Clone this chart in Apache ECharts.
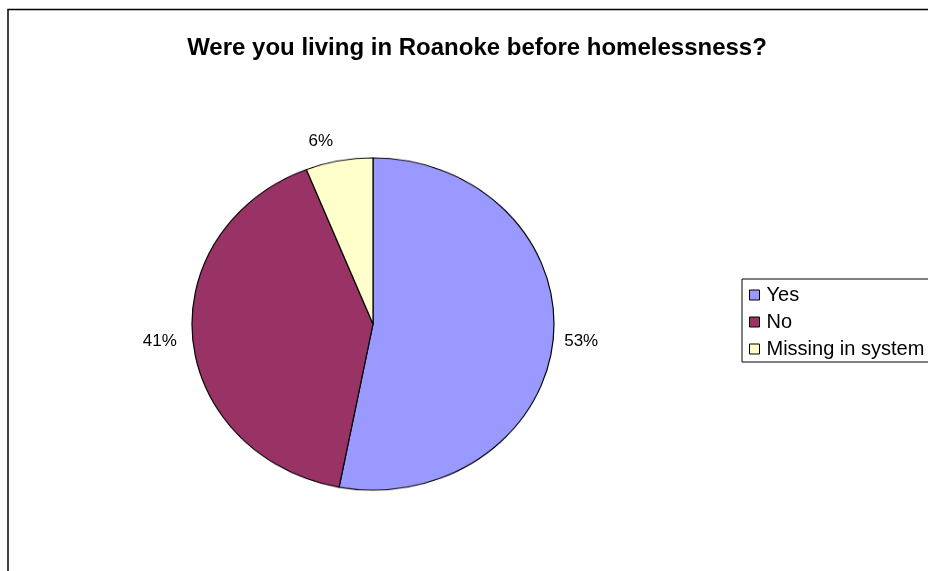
<!DOCTYPE html>
<html>
<head>
<meta charset="utf-8">
<script src="https://cdn.jsdelivr.net/npm/echarts@6/dist/echarts.min.js"></script>
<style>
  html, body { margin: 0; padding: 0; background: #fff; }
  #wrap { position: relative; width: 928px; height: 571px; overflow: hidden; }
  #base, #pie { position: absolute; left: 0; top: 0; width: 928px; height: 571px; }
  #pie { transform-origin: 0 324px; transform: scaleY(0.918); pointer-events: none; }
</style>
</head>
<body>
<div id="wrap">
  <div id="base"></div>
  <div id="pie"></div>
</div>
<script>
const titleText = 'Were you living in Roanoke before homelessness?';
const categories = ['Yes', 'No', 'Missing in system'];
const values = [53, 41, 6];
const colors = ['#9999FF', '#993366', '#FFFFCC'];
// per-slice label line offsets (layout only)
const labelLen = [0, 0, 5];
const labelLen2 = [6, 11, 0];

const center = [373, 324];
const radius = 181;
const font = 'Liberation Sans, Arial, sans-serif';

const base = echarts.init(document.getElementById('base'), null, { renderer: 'canvas' });
base.setOption({
  animation: false,
  backgroundColor: '#fff',
  title: {
    text: titleText,
    left: 472,
    textAlign: 'center',
    top: 31,
    textStyle: { fontFamily: font, fontWeight: 'bold', fontSize: 24, color: '#000' }
  },
  graphic: [{
    type: 'rect',
    shape: { x: 8, y: 9.5, width: 1000, height: 1000 },
    style: { fill: 'none', stroke: '#000', lineWidth: 1.5 },
    silent: true
  }],
  legend: {
    orient: 'vertical',
    left: 742,
    top: 279,
    padding: [6, 40, 3, 7],
    itemGap: 7,
    itemWidth: 10,
    itemHeight: 10,
    icon: 'rect',
    borderColor: '#000',
    borderWidth: 1,
    textStyle: { fontFamily: font, fontSize: 20, color: '#000', lineHeight: 20, padding: [0, 0, 0, 2] },
    data: categories.map((c, i) => ({
      name: c,
      itemStyle: { color: colors[i], opacity: 1, borderColor: '#000', borderWidth: 1 }
    }))
  },
  series: [{
    type: 'pie',
    center: center,
    radius: radius,
    startAngle: 90,
    clockwise: true,
    avoidLabelOverlap: false,
    silent: true,
    itemStyle: { color: 'rgba(0,0,0,0)', borderWidth: 0 },
    label: {
      show: true,
      position: 'outside',
      formatter: '{d}%',
      fontFamily: font,
      fontSize: 17,
      color: '#000',
      distanceToLabelLine: 5
    },
    data: categories.map((c, i) => ({
      name: c,
      value: values[i],
      labelLine: { show: false, length: labelLen[i], length2: labelLen2[i] }
    }))
  }]
});

const pie = echarts.init(document.getElementById('pie'), null, { renderer: 'canvas' });
pie.setOption({
  animation: false,
  backgroundColor: 'rgba(0,0,0,0)',
  series: [{
    type: 'pie',
    center: center,
    radius: radius,
    startAngle: 90,
    clockwise: true,
    silent: true,
    label: { show: false },
    labelLine: { show: false },
    itemStyle: { borderColor: '#000', borderWidth: 1.2 },
    data: categories.map((c, i) => ({
      name: c,
      value: values[i],
      itemStyle: { color: colors[i] }
    }))
  }]
});
</script>
</body>
</html>
